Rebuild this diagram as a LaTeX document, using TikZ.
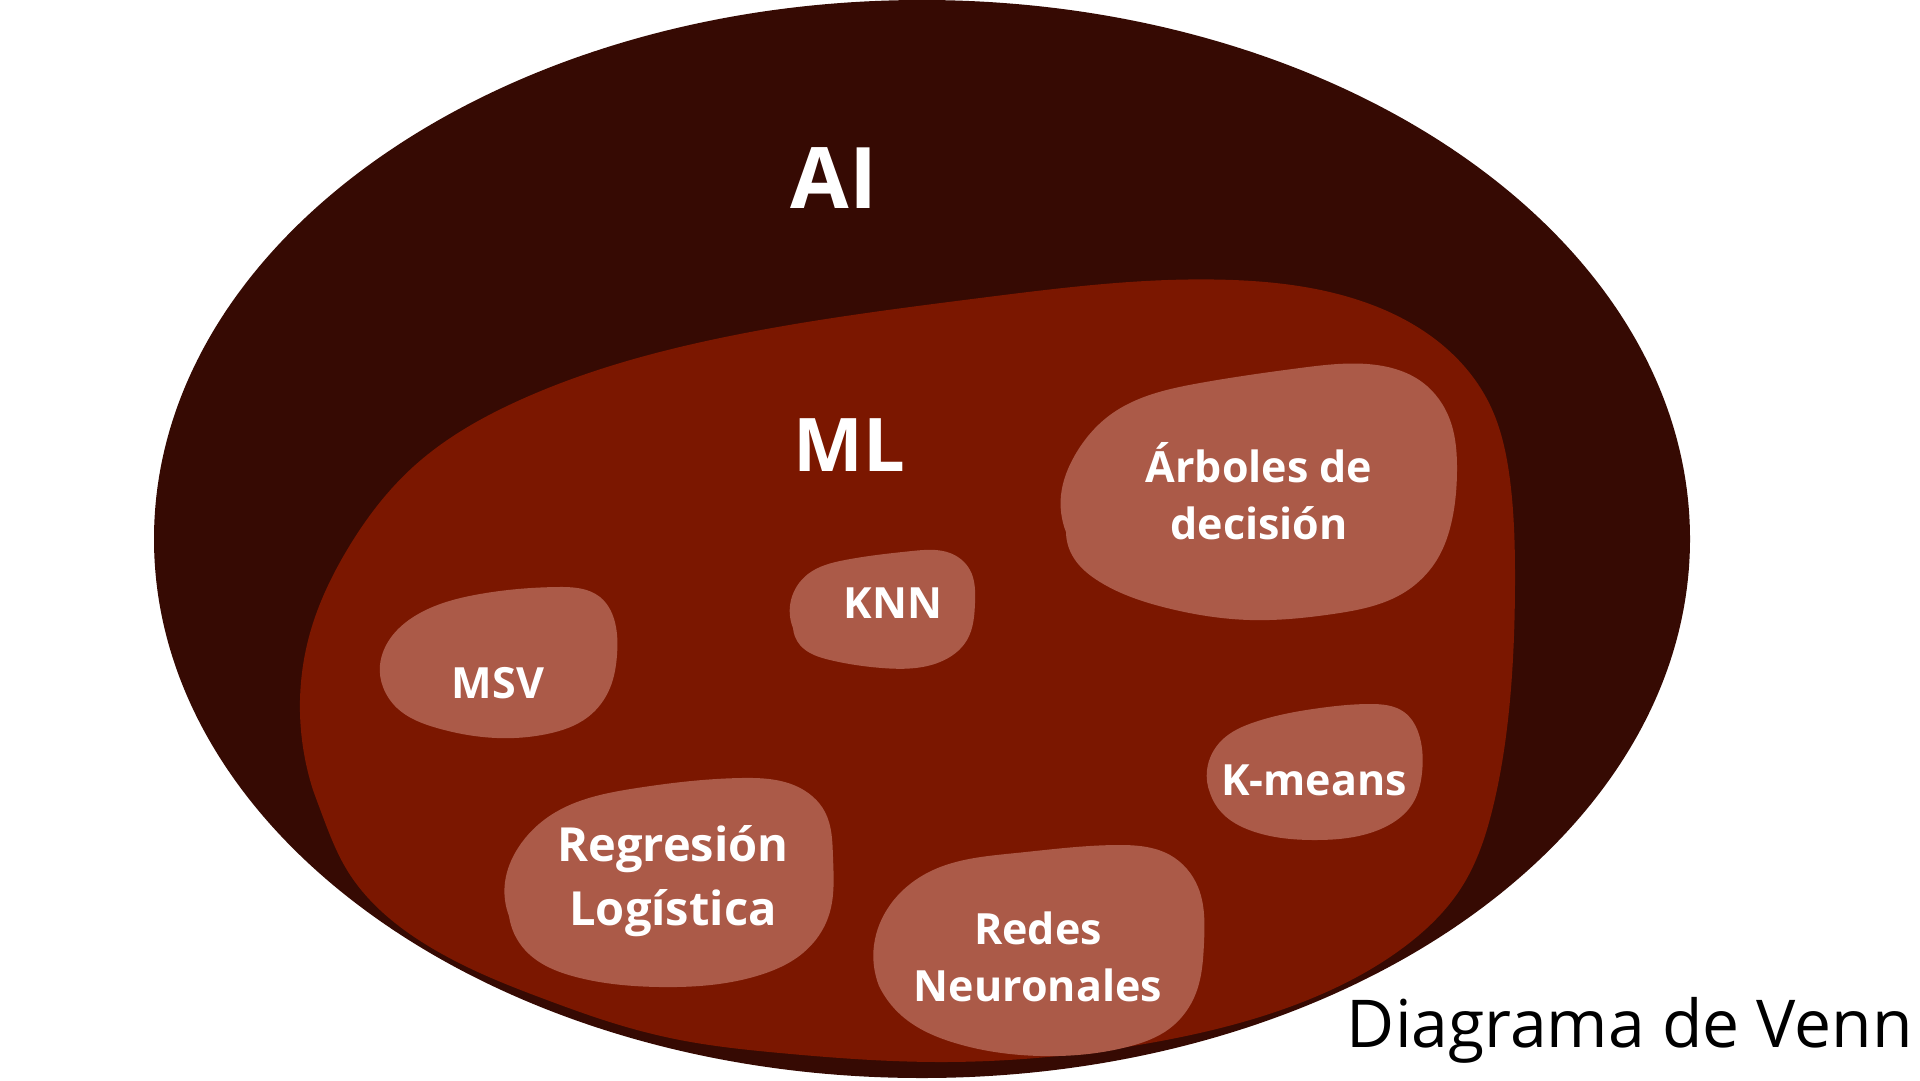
\documentclass[tikz,border=0pt]{standalone}
\usepackage{fontspec}
\setmainfont{Open Sans}
\usetikzlibrary{hobby}
\definecolor{aicol}{HTML}{360A03}
\definecolor{mlcol}{HTML}{7B1700}
\definecolor{blobcol}{HTML}{AB5A48}
\begin{document}
\begin{tikzpicture}[x=1pt,y=-1pt,
  blob/.style={fill=blobcol,use Hobby shortcut},
  lab/.style={text=white,font=\bfseries\fontsize{43}{57}\selectfont,align=center,inner sep=0pt},
  biglab/.style={text=white,font=\bfseries\fontsize{#1}{#1}\selectfont,inner sep=0pt,anchor=base}]
\fill[white] (0,0) rectangle (1920,1080);
\useasboundingbox (0,0) rectangle (1920,1080);
% AI
\fill[aicol] (922,539) ellipse [x radius=768, y radius=539];
% ML
\fill[mlcol,use Hobby shortcut] (313,790) .. (300,700) .. (310,633) .. (347,550) .. (413,467)
 .. (520,400) .. (735,335) .. (980,298) .. (1233,280) .. (1367,303) .. (1440,343)
 .. (1490,405) .. (1510,480) .. (1515,580) .. (1510,700) .. (1493,807) .. (1463,885)
 .. (1400,950) .. (1300,1003) .. (1150,1043) .. (940,1062) .. (780,1053) .. (680,1040)
 .. (613,1023) .. (547,1000) .. (480,973) .. (430,947) .. (380,910) .. (347,870)
 .. (323,817) .. (313,790) -- cycle;
% blobs
\fill[blob] (1066,532) .. (1061,495) .. (1075,455) .. (1110,415) .. (1200,383) .. (1300,368)
 .. (1367,364) .. (1422,382) .. (1450,420) .. (1457,470) .. (1452,520) .. (1438,558)
 .. (1405,592) .. (1333,614) .. (1250,620) .. (1167,608) .. (1100,582) .. (1072,555) .. (1066,532) -- cycle;
\fill[blob] (793,628) .. (791,600) .. (808,574) .. (845,560) .. (912,551) .. (950,553)
 .. (970,570) .. (975,603) .. (967,640) .. (940,662) .. (882,668) .. (830,660) .. (800,645) .. (793,628) -- cycle;
\fill[blob] (383,687) .. (380,665) .. (392,636) .. (420,613) .. (480,594) .. (557,587)
 .. (600,597) .. (616,627) .. (617,655) .. (610,688) .. (588,717) .. (547,734) .. (497,738)
 .. (437,728) .. (397,708) .. (383,687) -- cycle;
\fill[blob] (509,916) .. (505,882) .. (518,848) .. (551,815) .. (637,788) .. (741,778)
 .. (796,786) .. (825,812) .. (833,857) .. (829,915) .. (803,953) .. (760,975) .. (660,987)
 .. (576,977) .. (525,950) .. (509,916) -- cycle;
\fill[blob] (1210,793) .. (1207,770) .. (1222,740) .. (1255,722) .. (1320,708) .. (1370,704)
 .. (1404,712) .. (1420,738) .. (1422,773) .. (1413,803) .. (1383,828) .. (1316,840)
 .. (1252,831) .. (1222,813) .. (1210,793) -- cycle;
\fill[blob] (879,986) .. (874,945) .. (890,905) .. (931,871) .. (1016,853) .. (1117,845)
 .. (1170,855) .. (1198,887) .. (1204,943) .. (1196,993) .. (1169,1029) .. (1127,1047)
 .. (1041,1056) .. (955,1043) .. (902,1016) .. (879,986) -- cycle;
% labels
\node[biglab=85] (ai) at (834,208) {AI};
\node[biglab=74] (ml) at (849,471) {ML};
\node[lab] (arb) at (1259,491) {Árboles de\\decisión};
\node[lab] (knn) at (893,603) {KNN};
\node[lab] (msv) at (498,683) {MSV};
\node[lab,font=\bfseries\fontsize{47}{64}\selectfont] (reg) at (673,881) {Regresión\\Logística};
\node[lab] (km) at (1314,780) {K-means};
\node[lab] (red) at (1038,957) {Redes\\Neuronales};
\node[font=\fontsize{66}{66}\selectfont,anchor=base east,inner sep=0pt,text=black] (title) at (1913,1047) {Diagrama de Venn};
\end{tikzpicture}
\end{document}
